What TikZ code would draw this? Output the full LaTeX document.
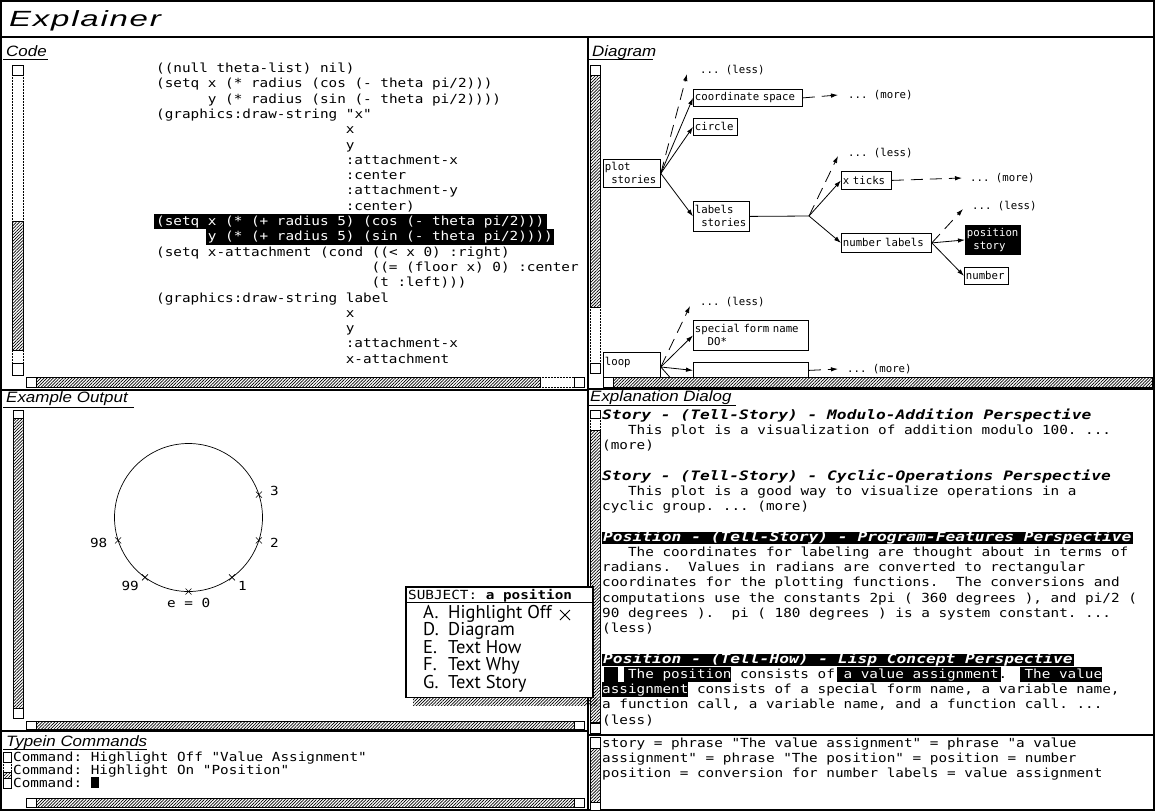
\documentclass[tikz,border=0pt]{standalone}
\usepackage{fontspec}
\setmonofont{DejaVu Sans Mono}[FakeStretch=1.146]
\newfontfamily\hdfont{DejaVu Sans Mono}[FakeStretch=1.25]
\newfontfamily\dgfont{DejaVu Sans Mono}[FakeStretch=0.99]
\newfontfamily\lbfont{Liberation Sans}[FakeStretch=1.13]
\newfontfamily\ttlfont{Liberation Sans}[FakeStretch=1.5,LetterSpace=8]
\newfontfamily\mnfont{PT Sans}
\usetikzlibrary{arrows.meta,patterns.meta}
\frenchspacing
\tikzset{
  hatch/.style={pattern={Lines[angle=45,distance=2.2pt,line width=0.7pt]},pattern color=black},
  outerframe/.style={line width=2pt},
  panelsep/.style={line width=1.6pt},
  sbox/.style={draw,line width=0.6pt,fill=white},
  thumb/.style={draw,line width=0.5pt,hatch},
  dotline/.style={densely dotted,line width=0.5pt},
  tx/.style={anchor=base west,inner sep=0pt,font=\ttfamily\fontsize{12.5}{15}\selectfont},
  hd/.style={anchor=base west,inner sep=0pt,font=\hdfont\bfseries\itshape\fontsize{13}{15}\selectfont},
  hdbar/.style={hd,fill=black,text=white,inner xsep=1pt,text height=9.5pt,text depth=3pt},
  lbl/.style={anchor=base west,inner sep=0pt,font=\lbfont\itshape\fontsize{15}{17}\selectfont},
  dgt/.style={font=\dgfont\fontsize{10.8}{13}\selectfont},
  dbox/.style={draw,line width=0.8pt,inner xsep=1.5pt,inner ysep=1pt,anchor=north west,align=left,dgt,fill=white},
  dlab/.style={dgt,anchor=west,inner sep=0pt},
  arr/.style={line width=0.8pt,-{Latex[length=7pt,width=4.5pt]}},
  darr/.style={arr,dash pattern=on 12pt off 7pt},
  mn/.style={anchor=base west,inner sep=0pt,font=\mnfont\fontsize{18.5}{20}\selectfont},
  wt/.style={tx,text=white},
}
\begin{document}
\begin{tikzpicture}[x=1pt,y=-1pt]
\useasboundingbox (0,0) rectangle (1155,811);
\fill[white] (0,0) rectangle (1155,811);
% ---------- frame ----------
\draw[outerframe] (1,1) rectangle (1154,810);
\draw[outerframe] (0,37) -- (1155,37);
\draw[outerframe] (588,37) -- (588,811);
\draw[panelsep] (0,390) -- (588,390);
\draw[panelsep] (0,731) -- (588,731);
\draw[panelsep] (588,389) -- (1155,389);
\draw[panelsep] (588,735) -- (1155,735);
\node[anchor=base west,inner sep=0pt,font=\ttlfont\itshape\fontsize{22}{24}\selectfont] (title) at (9,27) {Explainer};

% ---------- Code panel ----------
\node[lbl] (lcode) at (6,56.5) {Code};
\draw[line width=0.6pt] (3,59) -- (48,59);
\draw[dotline] (12,75) -- (12,363) (23,75) -- (23,363);
\draw[sbox] (12,65) rectangle (23,75);
\draw[thumb] (12,221) rectangle (23,350);
\draw[sbox] (12,363) rectangle (23,375);
\draw[dotline] (540,377) -- (574,377) (540,387) -- (574,387);
\draw[sbox] (26,377) rectangle (36,387);
\draw[thumb] (36,377) rectangle (540,387);
\draw[sbox] (574,377) rectangle (584,387);

\fill[black] (154,214) rectangle (547,229.3);
\fill[black] (206,229.3) rectangle (553.5,244.6);

\node[tx] (c0) at (156,72.5) {((null theta-list) nil)};
\node[tx] (c1) at (156,87.8) {(setq x (* radius (cos (- theta pi/2)))};
\node[tx] (c2) at (207.7,103.1) {y (* radius (sin (- theta pi/2))))};
\node[tx] (c3) at (156,118.4) {(graphics:draw-string "x"};
\node[tx] (c4) at (345.6,133.7) {x};
\node[tx] (c5) at (345.6,149.0) {y};
\node[tx] (c6) at (345.6,164.3) {:attachment-x};
\node[tx] (c7) at (345.6,179.6) {:center};
\node[tx] (c8) at (345.6,194.9) {:attachment-y};
\node[tx] (c9) at (345.6,210.2) {:center)};
\node[wt] (c10) at (156,225.5) {(setq x (* (+ radius 5) (cos (- theta pi/2)))};
\node[wt] (c11) at (207.7,240.8) {y (* (+ radius 5) (sin (- theta pi/2))))};
\node[tx] (c12) at (156,256.1) {(setq x-attachment (cond ((< x 0) :right)};
\node[tx] (c13) at (371.5,271.4) {((= (floor x) 0) :center};
\node[tx] (c14) at (371.5,286.7) {(t :left)))};
\node[tx] (c15) at (156,302.0) {(graphics:draw-string label};
\node[tx] (c16) at (345.6,317.3) {x};
\node[tx] (c17) at (345.6,332.6) {y};
\node[tx] (c18) at (345.6,347.9) {:attachment-x};
\node[tx] (c19) at (345.6,363.2) {x-attachment};

% ---------- Example Output panel ----------
\node[lbl] (lex) at (6,402.5) {Example Output};
\draw[line width=0.6pt] (3,407) -- (134,407);
\draw[sbox] (13,410) rectangle (23,418);
\draw[thumb] (13,418) rectangle (23,708);
\draw[sbox] (13,708) rectangle (23,718);
\draw[sbox] (26,721) rectangle (36,729);
\draw[thumb] (36,721) rectangle (574,729);
\draw[sbox] (574,721) rectangle (584,729);

\coordinate (cc) at (188.5,517.5);
\draw[line width=0.7pt] (cc) circle[radius=74];
\coordinate (t0) at (188.5,591.5);
\coordinate (t1) at (232,577.4);
\coordinate (t2) at (258.9,540.4);
\coordinate (t3) at (258.9,494.6);
\coordinate (t4) at (145,577.4);
\coordinate (t5) at (118.1,540.4);
\foreach \p in {t0,t1,t2,t3,t4,t5}{
  \draw[line width=0.6pt] ([shift={(-3,-3)}]\p) -- ([shift={(3,3)}]\p)
                          ([shift={(-3,3)}]\p) -- ([shift={(3,-3)}]\p);
}
\node[tx] (n3) at (270,495.5) {3};
\node[tx] (n2) at (270,547.5) {2};
\node[tx] (n1) at (238,590.5) {1};
\node[tx] (n0) at (167,607.5) {e = 0};
\node[tx] (n99) at (121.4,590.5) {99};
\node[tx] (n98) at (89.8,547.5) {98};

% ---------- Typein panel ----------
\node[lbl] (lty) at (6,746) {Typein Commands};
\draw[line width=0.6pt] (3,749) -- (147,749);
\draw[dotline] (3,762) -- (3,772) (11,762) -- (11,772);
\draw[sbox] (3,752) rectangle (11,762);
\draw[thumb] (3,772) rectangle (11,778);
\draw[sbox] (3,778) rectangle (11,788);
\node[tx] (ty1) at (13,761) {Command: Highlight Off "Value Assignment"};
\node[tx] (ty2) at (13,774) {Command: Highlight On "Position"};
\node[tx] (ty3) at (13,787) {Command:};
\fill[black] (91,776.5) rectangle (98.5,787.5);
\draw[sbox] (26,798) rectangle (36,807);
\draw[thumb] (36,798) rectangle (574,807);
\draw[sbox] (574,798) rectangle (584,807);

% ---------- Diagram panel ----------
\node[lbl] (ldg) at (592,56.5) {Diagram};
\draw[line width=0.6pt] (588,59.5) -- (653,59.5);
\draw[dotline] (590,307) -- (590,363) (600,307) -- (600,363);
\draw[sbox] (590,65) rectangle (600,75);
\draw[thumb] (590,75) rectangle (600,307);
\draw[sbox] (590,363) rectangle (600,373);
\draw[sbox] (603,377) rectangle (613,387);
\draw[thumb] (613,377) rectangle (1152,387);

\begin{scope}
\clip (601,61) rectangle (1153,376);
\node[dbox,text width=54pt,minimum height=28pt] (ps) at (603,159) {plot\\\hspace*{6.4pt}stories};
\node[dbox,text width=106pt,minimum height=17pt] (cs) at (693,89) {coordinate space};
\node[dbox,text width=41pt,minimum height=17pt] (ci) at (693,118) {circle};
\node[dbox,text width=53pt,minimum height=30pt] (ls) at (693,201) {labels\\\hspace*{6.4pt}stories};
\node[dbox,text width=47pt,minimum height=18pt] (xt) at (841,171) {x ticks};
\node[dbox,text width=87pt,minimum height=19pt] (nl) at (841,233) {number labels};
\node[dbox,text width=52pt,minimum height=29pt,fill=black,text=white] (pos) at (965,225) {position\\\hspace*{6.4pt}story};
\node[dbox,text width=41pt,minimum height=17pt] (num) at (964,267) {number};
\node[dbox,text width=112pt,minimum height=30pt] (sf) at (693,320) {special form name\\\hspace*{12.8pt}DO*};
\node[dbox,text width=54pt,minimum height=30pt] (lp) at (603,352) {loop\\\mbox{}};
\node[dbox,text width=112pt,minimum height=16pt] (lb) at (693,362) {};

\node[dlab] (less1) at (700,70) {... (less)};
\node[dlab] (more1) at (848,95) {... (more)};
\node[dlab] (less2) at (848,153) {... (less)};
\node[dlab] (more2) at (970,178) {... (more)};
\node[dlab] (less3) at (972,206) {... (less)};
\node[dlab] (less4) at (700,302) {... (less)};
\node[dlab] (more3) at (847,369) {... (more)};

\draw[arr] (ps.east) -- (cs.west);
\draw[arr] (ps.east) -- (ci.west);
\draw[arr] (ps.east) -- (ls.west);
\draw[darr] (ps.east) -- ([xshift=-13pt,yshift=-4pt]less1.west);
\draw[darr] (cs.east) -- ([xshift=-10pt]more1.west);
\coordinate (bp) at (809,216);
\draw[line width=0.8pt] (ls.east) -- (bp);
\draw[arr] (bp) -- (xt.west);
\draw[arr] (bp) -- (nl.west);
\draw[darr] (bp) -- ([xshift=-10pt,yshift=-3pt]less2.west);
\draw[darr] (xt.east) -- ([xshift=-8pt]more2.west);
\draw[arr] (nl.east) -- (pos.west);
\draw[arr] (nl.east) -- (num.west);
\draw[darr] (nl.east) -- ([xshift=-9pt,yshift=-3pt]less3.west);
\coordinate (lo) at ([yshift=-15pt]lp.north east);
\coordinate (stub) at (690,400);
\draw[arr] (lo) -- (sf.west);
\draw[arr] (lo) -- (lb.west);
\draw[darr] (lo) -- ([xshift=-10pt,yshift=-4pt]less4.west);
\draw[line width=0.8pt] (lo) -- (stub);
\draw[darr] (lb.east) -- ([xshift=-9pt]more3.west);
\end{scope}

% ---------- Explanation Dialog ----------
\node[lbl] (lexp) at (590,401.5) {Explanation Dialog};
\draw[line width=0.6pt] (588,405.5) -- (736,405.5);
\draw[dotline] (590,418) -- (590,430) (600,418) -- (600,430);
\draw[sbox] (590,410) rectangle (600,418);
\draw[thumb] (590,430) rectangle (600,722);
\draw[sbox] (590,723) rectangle (600,733);

\node[hd] (e0) at (602,419) {Story - (Tell-Story) - Modulo-Addition Perspective};
\node[tx] (e1) at (627.9,434.25) {This plot is a visualization of addition modulo 100. ...};
\node[tx] (e2) at (602,449.5) {(more)};
\node[hd] (e4) at (602,480) {Story - (Tell-Story) - Cyclic-Operations Perspective};
\node[tx] (e5) at (627.9,495.25) {This plot is a good way to visualize operations in a};
\node[tx] (e6) at (602,510.5) {cyclic group. ... (more)};
\node[hdbar] (e8) at (602,541) {Position - (Tell-Story) - Program-Features Perspective};
\node[tx] (e9) at (627.9,556.25) {The coordinates for labeling are thought about in terms of};
\node[tx] (e10) at (602,571.5) {radians.\ \ Values in radians are converted to rectangular};
\node[tx] (e11) at (602,586.75) {coordinates for the plotting functions.\ \ The conversions and};
\node[tx] (e12) at (602,602) {computations use the constants 2pi ( 360 degrees ), and pi/2 (};
\node[tx] (e13) at (602,617.25) {90 degrees ).\ \ pi ( 180 degrees ) is a system constant. ...};
\node[tx] (e14) at (602,632.5) {(less)};
\node[hdbar] (e16) at (602,663) {Position - (Tell-How) - Lisp Concept Perspective};
\fill[black] (604,666.75) rectangle (618,682);
\fill[black] (624,666.75) rectangle (731,682);
\fill[black] (837,666.75) rectangle (1001,682);
\fill[black] (1020,666.75) rectangle (1102,682);
\fill[black] (602,682) rectangle (688,697.25);
\node[wt] (e17a) at (627.9,678.25) {The position};
\node[tx] (e17b) at (739.9,678.25) {consists of};
\node[wt] (e17c) at (843.4,678.25) {a value assignment};
\node[tx] (e17d) at (998.5,678.25) {.};
\node[wt] (e17e) at (1024.4,678.25) {The value};
\node[wt] (e18a) at (602,693.5) {assignment};
\node[tx] (e18b) at (696.8,693.5) {consists of a special form name, a variable name,};
\node[tx] (e19) at (602,708.75) {a function call, a variable name, and a function call. ...};
\node[tx] (e20) at (602,724) {(less)};

% ---------- bottom right panel ----------
\draw[sbox] (590,737) rectangle (600,748);
\draw[thumb] (590,748) rectangle (600,802);
\draw[sbox] (590,802) rectangle (600,810);
\node[tx] (s1) at (602,747.5) {story = phrase "The value assignment" = phrase "a value};
\node[tx] (s2) at (602,762.5) {assignment" = phrase "The position" = position = number};
\node[tx] (s3) at (602,777.5) {position = conversion for number labels = value assignment};

% ---------- pop-up menu ----------
\fill[hatch] (413,697.5) rectangle (597,705);
\draw[line width=1.4pt,fill=white] (406,587) rectangle (593,697.5);
\draw[line width=1pt] (406,602) -- (593,602);
\node[tx] (msub) at (408,599.5) {SUBJECT:\ \textbf{a position}};
\node[mn] (mA) at (423,618.5) {\makebox[25pt][l]{A.}Highlight Off};
\node[mn] (mD) at (423,635.9) {\makebox[25pt][l]{D.}Diagram};
\node[mn] (mE) at (423,653.3) {\makebox[25pt][l]{E.}Text How};
\node[mn] (mF) at (423,670.7) {\makebox[25pt][l]{F.}Text Why};
\node[mn] (mG) at (423,688.1) {\makebox[25pt][l]{G.}Text Story};
\coordinate (mc) at (565,615);
\draw[line width=0.8pt] ([shift={(-5,-5)}]mc) -- ([shift={(5,5)}]mc)
                        ([shift={(-5,5)}]mc) -- ([shift={(5,-5)}]mc);
\end{tikzpicture}
\end{document}
